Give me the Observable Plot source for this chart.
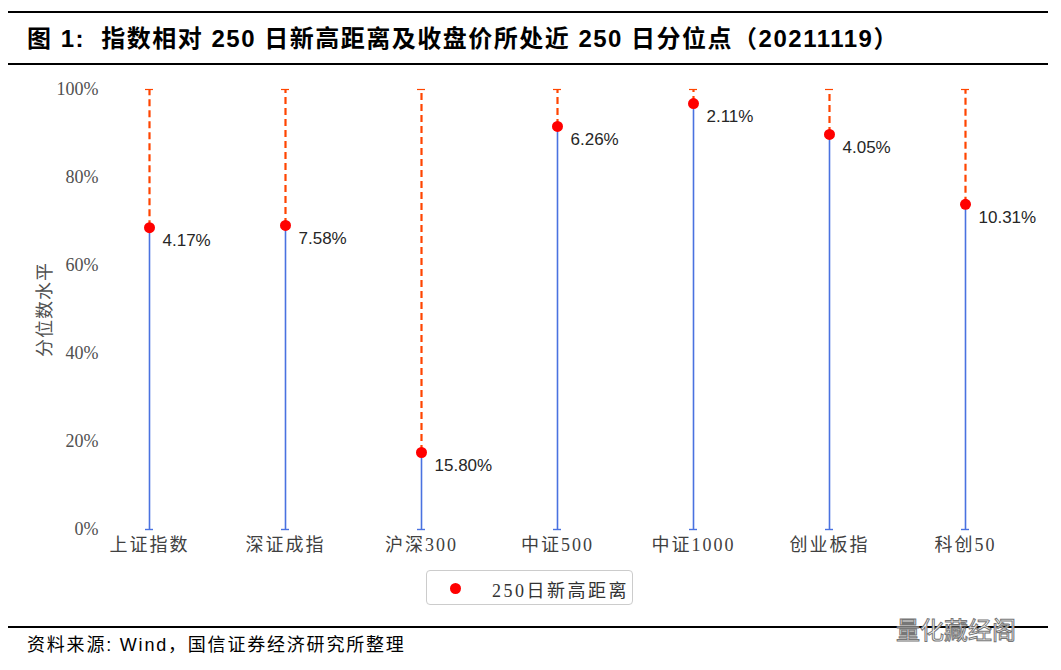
<!DOCTYPE html>
<html><head><meta charset="utf-8">
<script src="https://cdn.jsdelivr.net/npm/d3@7"></script>
<script src="https://cdn.jsdelivr.net/npm/@observablehq/plot@0.6"></script>
<style>
body{margin:0;background:#fff;width:1061px;height:670px;position:relative;overflow:hidden;font-family:"Liberation Sans","Noto Sans CJK SC",sans-serif;}
.hr{position:absolute;left:8px;width:1040px;background:#000;}
#title{position:absolute;left:27px;top:24px;font-size:24px;line-height:30px;letter-spacing:1.5px;font-weight:bold;color:#000;white-space:nowrap;font-family:"Liberation Sans","Noto Sans CJK SC",sans-serif;}
#chart{position:absolute;left:0;top:70px;}
#chart g[aria-label="x-axis tick label"] text{letter-spacing:2px;}
#chart g[aria-label="y-axis label"] text{letter-spacing:1px;}
#legend{position:absolute;left:426px;top:570px;width:207px;height:35px;border:1px solid #ccc;border-radius:4px;box-sizing:border-box;}
#legend .dot{position:absolute;left:23px;top:12px;width:11px;height:11px;border-radius:50%;background:#ff0000;}
#legend .lab{position:absolute;left:65px;top:5px;font-size:18px;letter-spacing:2.5px;color:#333;font-family:"Liberation Serif","Noto Sans CJK SC",serif;white-space:nowrap;}
#footer{position:absolute;left:27px;top:630px;font-size:18px;letter-spacing:1.8px;color:#000;white-space:nowrap;}
#wm{position:absolute;left:896px;top:611px;font-size:24px;color:#fff;-webkit-text-stroke:1px #777;white-space:nowrap;font-family:"Noto Sans CJK SC",sans-serif;}
</style></head>
<body>
<div class="hr" style="top:11px;height:2px"></div>
<div id="title">图 1:&nbsp; 指数相对 250 日新高距离及收盘价所处近 250 日分位点（20211119）</div>
<div class="hr" style="top:63px;height:2px"></div>
<div id="chart"></div>
<div id="legend"><div class="dot"></div><div class="lab">250日新高距离</div></div>
<div class="hr" style="top:626px;height:2px"></div>
<div id="footer">资料来源: Wind，国信证券经济研究所整理</div>
<div id="wm">量化藏经阁</div>
<script>
const categories = ["上证指数","深证成指","沪深300","中证500","中证1000","创业板指","科创50"];
const percentiles = [68.6, 69.1, 17.5, 91.6, 96.8, 89.8, 73.9];
const distanceLabels = ["4.17%","7.58%","15.80%","6.26%","2.11%","4.05%","10.31%"];
const yTicks = [0, 20, 40, 60, 80, 100];

const data = categories.map((c, i) => ({cat: c, p: percentiles[i], lab: distanceLabels[i]}));
const serif = '"Liberation Serif","Noto Sans CJK SC",serif';

const plot = Plot.plot({
  width: 1061,
  height: 490,
  marginTop: 19,
  marginBottom: 31,
  marginLeft: 100,
  marginRight: 28,
  style: {fontFamily: serif, fontSize: "18px", color: "#404040", background: "transparent"},
  x: {type: "band", domain: categories, range: [81, 1033], padding: 0},
  y: {domain: [0, 100]},
  marks: [
    Plot.axisY({ticks: yTicks, tickSize: 0, tickPadding: 2, tickFormat: d => d + "%",
      label: "分位数水平", labelAnchor: "center", labelArrow: "none", labelOffset: 62,
      fontSize: 18, fill: "#505050"}),
    Plot.axisX({tickSize: 0, tickPadding: 9, label: null, fontSize: 18, fill: "#404040"}),
    Plot.ruleX(data, {x: "cat", y1: 0, y2: "p", stroke: "#4a72e0", strokeWidth: 1.6}),
    Plot.ruleX(data, {x: "cat", y1: "p", y2: 100, stroke: "#ff4500", strokeWidth: 2.2, strokeDasharray: "7,4"}),
    Plot.tickY(data, {x: "cat", y: 100, stroke: "#ff4500", strokeWidth: 1.2, insetLeft: 64, insetRight: 64}),
    Plot.tickY(data, {x: "cat", y: 0, stroke: "#4a72e0", strokeWidth: 1.4, insetLeft: 64, insetRight: 64}),
    Plot.dot(data, {x: "cat", y: "p", r: 5.5, fill: "#ff0000", stroke: "none"}),
    Plot.text(data, {x: "cat", y: "p", text: "lab", dx: 13, dy: 13, textAnchor: "start",
      fontSize: 17, fill: "#262626", fontFamily: '"Liberation Sans",Arial,sans-serif'})
  ]
});
document.getElementById("chart").appendChild(plot);
</script>
</body></html>
